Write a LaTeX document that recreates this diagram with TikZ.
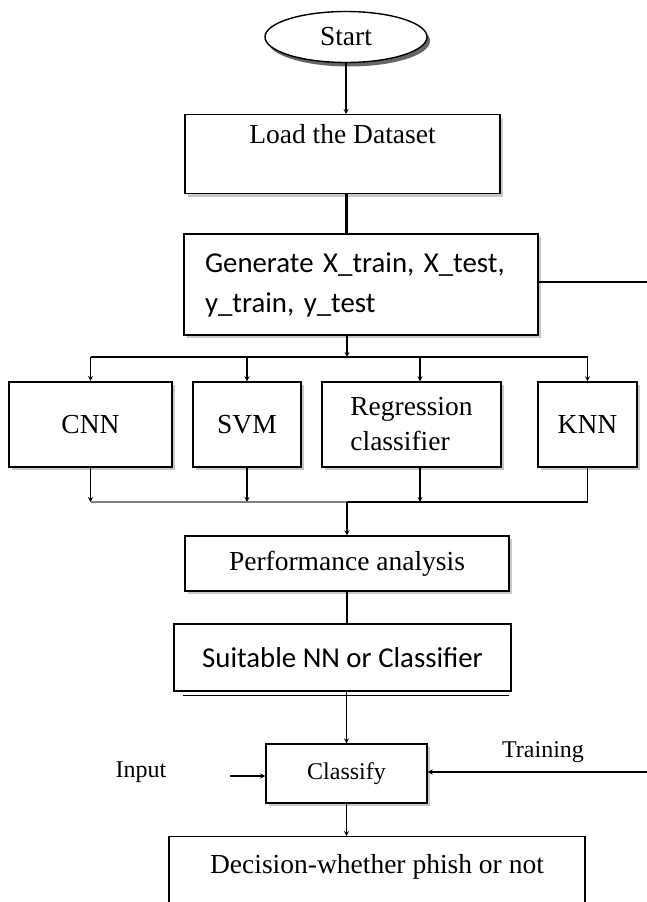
\documentclass[tikz,border=0pt]{standalone}
\usepackage{fontspec}
\setmainfont{Liberation Serif}
\newfontfamily\calibrifont{Carlito}
\usetikzlibrary{shapes.geometric,shadows}

\begin{document}
\begin{tikzpicture}[x=1pt,y=-1pt,>=stealth,line width=1.2pt,
  every node/.style={font=\fontsize{27.5}{33}\selectfont},
  box/.style={draw,rectangle,fill=white,line width=1.4pt,inner sep=0pt,
    drop shadow={shadow xshift=3pt,shadow yshift=-3pt,fill=black!22,opacity=1}},
  small/.style={font=\fontsize{24}{28}\selectfont}]
\useasboundingbox (0,0) rectangle (647,902);
\node[draw,ellipse,fill=white,line width=1.4pt,minimum width=162pt,minimum height=51pt,inner sep=0pt,
  drop shadow={shadow xshift=3pt,shadow yshift=-4pt,fill=black!60,opacity=1}] (start) at (346,37) {Start};
\node[box,minimum width=315pt,text height=29pt,text depth=50pt,anchor=north] (load) at (342.5,114) {Load the Dataset};
\node[box,line width=2.4pt,minimum height=101pt,inner xsep=21pt,text width=312pt,align=left,
  font=\calibrifont\fontsize{28.8}{40}\selectfont] (gen) at (361,284.5) {Generate X\_train, X\_test,\\y\_train, y\_test};
\node[box,line width=2.2pt,minimum width=163pt,minimum height=85pt] (cnn) at (90.5,424.5) {CNN};
\node[box,minimum width=108pt,minimum height=85pt] (svm) at (247,424.5) {SVM};
\node[box,minimum width=179pt,minimum height=85pt,align=left,font=\fontsize{27.5}{35}\selectfont] (reg) at (411.5,424.5) {Regression\\classifier};
\node[box,minimum width=99pt,minimum height=85pt] (knn) at (587.5,424.5) {KNN};
\node[box,minimum width=324pt,minimum height=55pt] (perf) at (347,563.5) {Performance analysis};
\node[draw,fill=white,line width=2.4pt,minimum width=337pt,minimum height=67pt,
  font=\calibrifont\fontsize{28.8}{34}\selectfont] (suit) at (342.5,657.5) {Suitable NN or Classifier};
\node[box,small,minimum width=161pt,minimum height=59pt] (cls) at (346.5,773.5) {Classify};
\node[small] (inp) at (141,772) {Input};
\node[small] (train) at (543,752) {Training};
\node[draw,fill=white,line width=1.4pt,minimum width=416pt,text height=37pt,text depth=83pt,inner sep=0pt,anchor=north] (dec) at (377,836) {Decision-whether phish or not};

\coordinate (split) at (347,357);
\coordinate (merge) at (347,502);
\coordinate (genout) at (647,282);
\coordinate (regx) at ([xshift=8.5pt]reg.north);
\coordinate (inarrow) at (230,776);
\coordinate (trainend) at (647,772);

\draw[->] (start.south) -- (start.south |- load.north);
\draw[line width=3pt] (start |- load.south) -- (start |- gen.north);
\draw (genout -| gen.east) -- (genout);
\draw[->] (split |- gen.south) -- (split);
\draw (cnn |- split) -- (knn |- split);
\foreach \n in {cnn,svm,knn} \draw[->] (\n |- split) -- (\n.north);
\draw[->] (regx |- split) -- (regx);
\foreach \n in {cnn,svm} \draw[->] (\n.south) -- (\n.south |- merge);
\draw[->] (regx |- reg.south) -- (regx |- merge);
\draw[black!50] (cnn.south |- merge) -- (merge);
\draw (merge) -- (knn.south |- merge) -- (knn.south);
\draw[->] (merge) -- (perf.north);
\draw (merge |- perf.south) -- (merge |- suit.north);
\draw ([xshift=10pt,yshift=-3.5pt]suit.south west) -- ([xshift=-3pt,yshift=-3.5pt]suit.south east);
\draw[->] (cls.north |- suit.south) -- (cls.north);
\draw[->] (inarrow) -- (inarrow -| cls.west);
\draw[->] (trainend) -- (trainend -| cls.east);
\draw[->] (cls.south) -- (cls.south |- dec.north);
\end{tikzpicture}
\end{document}
